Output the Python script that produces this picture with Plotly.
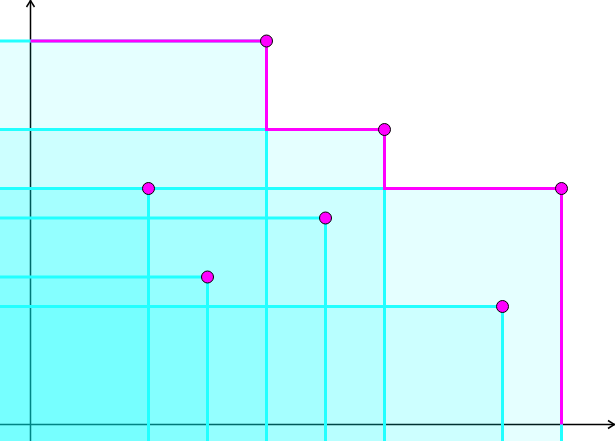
import plotly.graph_objects as go

# Data: objective values of solutions (both maximised)
f1 = [4, 6, 9, 2, 5, 3, 8]
f2 = [6.5, 5, 4, 4, 3.5, 2.5, 2]

# Pareto front (non-dominated points)
pts = sorted(zip(f1, f2), key=lambda p: -p[0])
front = []
best = -1e9
for x, y in pts:
    if y > best:
        front.append((x, y))
        best = y
front = sorted(front)

XR = [-30.5 / 59, (615 - 30.5) / 59]
YR = [(424.5 - 441) / 59, 424.5 / 59]
LO = -1.0  # rectangles extend beyond the visible area

CYAN = "#22ffff"
MAG = "#ff00ff"

fig = go.Figure()

# translucent dominated rectangles
for x, y in zip(f1, f2):
    fig.add_trace(go.Scatter(
        x=[LO, x, x, LO, LO], y=[LO, LO, y, y, LO], mode="lines",
        fill="toself", fillcolor="rgba(0,255,255,0.1)",
        line=dict(width=0), hoverinfo="skip", showlegend=False))

# rectangle edges
for x, y in zip(f1, f2):
    fig.add_trace(go.Scatter(
        x=[LO, x, x], y=[y, y, LO], mode="lines",
        line=dict(color=CYAN, width=3), hoverinfo="skip", showlegend=False))

# Pareto front step line
sx = [0]
sy = [front[0][1]]
for i, (x, y) in enumerate(front):
    sx.append(x)
    sy.append(y)
    nxt = front[i + 1][1] if i + 1 < len(front) else 0
    sx.append(x)
    sy.append(nxt)
fig.add_trace(go.Scatter(x=sx, y=sy, mode="lines",
                         line=dict(color=MAG, width=3),
                         hoverinfo="skip", showlegend=False))

# points
fig.add_trace(go.Scatter(x=f1, y=f2, mode="markers",
                         marker=dict(size=12, color=MAG,
                                     line=dict(color="black", width=1)),
                         showlegend=False))

# axes with arrows (drawn below the fills)
ax = 4 / 59
ay = 7 / 59
shapes = [
    dict(type="line", x0=XR[0], x1=XR[1], y0=0, y1=0, layer="below",
         line=dict(color="black", width=1.5)),
    dict(type="line", x0=0, x1=0, y0=YR[0], y1=YR[1], layer="below",
         line=dict(color="black", width=1.5)),
    dict(type="path", layer="below",
         path=f"M {-ax} {YR[1]-ay} L 0 {YR[1]-0.01} L {ax} {YR[1]-ay}",
         line=dict(color="black", width=1.5)),
    dict(type="path", layer="below",
         path=f"M {XR[1]-ay} {ax} L {XR[1]-0.01} 0 L {XR[1]-ay} {-ax}",
         line=dict(color="black", width=1.5)),
]

fig.update_layout(
    width=615, height=441,
    margin=dict(l=0, r=0, t=0, b=0),
    paper_bgcolor="white", plot_bgcolor="white",
    xaxis=dict(range=XR, visible=False, fixedrange=True),
    yaxis=dict(range=YR, visible=False, fixedrange=True),
    shapes=shapes,
)

fig.write_html("out.html", config=dict(displayModeBar=False),
               post_script="document.body.style.margin='0';document.body.style.overflow='hidden';")
